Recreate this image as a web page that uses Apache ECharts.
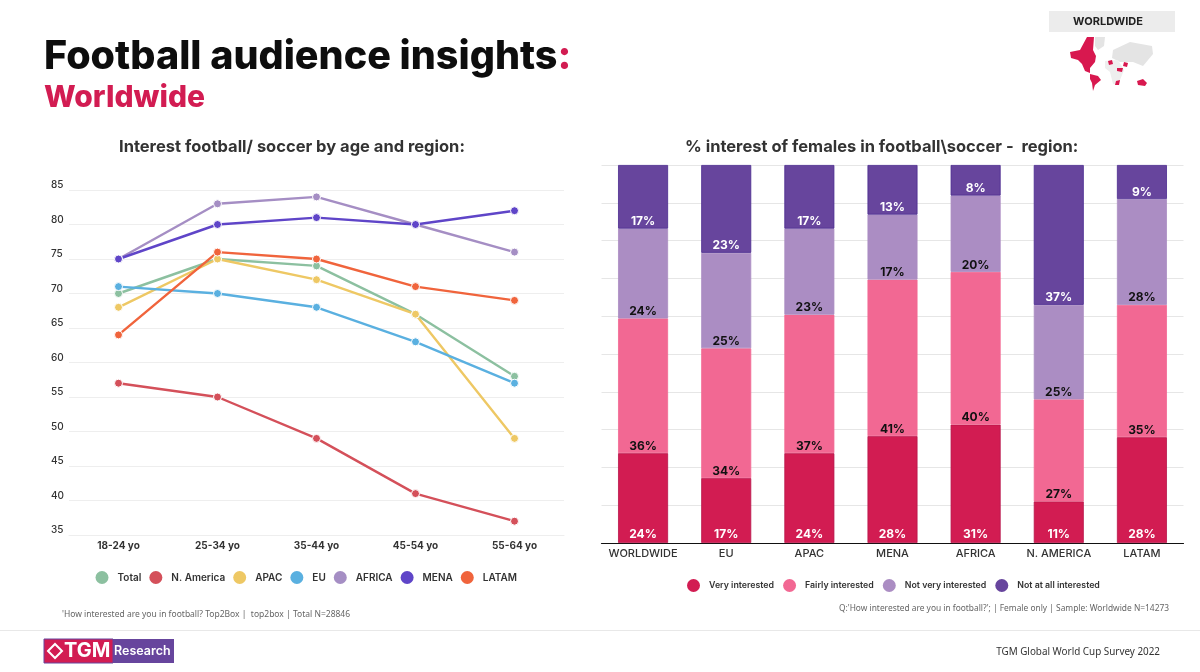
<!DOCTYPE html>
<html>
<head>
<meta charset="utf-8">
<style>
html, body { margin: 0; padding: 0; background: #fff; }
#main { width: 1200px; height: 672px; }
</style>
<script src="https://cdn.jsdelivr.net/npm/echarts@6/dist/echarts.min.js"></script>
</head>
<body>
<div id="main"></div>
<script>
// left chart
var ageGroups = ['18-24 yo', '25-34 yo', '35-44 yo', '45-54 yo', '55-64 yo']
var total = [70, 75, 74, 67, 58]
var nAmerica = [57, 55, 49, 41, 37]
var apac = [68, 75, 72, 67, 49]
var eu = [71, 70, 68, 63, 57]
var africa = [75, 83, 84, 80, 76]
var mena = [75, 80, 81, 80, 82]
var latam = [64, 76, 75, 71, 69]

// right chart
var regions = ['WORLDWIDE', 'EU', 'APAC', 'MENA', 'AFRICA', 'N. AMERICA', 'LATAM']
var veryInterested = [24, 17, 24, 28, 31, 11, 28]
var fairlyInterested = [36, 34, 37, 41, 40, 27, 35]
var notVeryInterested = [24, 25, 23, 17, 20, 25, 28]
var notAtAllInterested = [17, 23, 17, 13, 8, 37, 9]

var font = 'Inter, "Noto Sans", sans-serif'
var crimson = '#d21c52'

var lineSeries = (name, data, color) => {
    return {
        name: name,
        type: 'line',
        xAxisIndex: 0,
        yAxisIndex: 0,
        data: data,
        symbol: 'circle',
        symbolSize: 8,
        lineStyle: { color: color, width: 2.4 },
        itemStyle: { color: color, borderColor: '#fff', borderWidth: 1 },
    }
}

// the survey rounds to 99-101, the bars always fill the full height
var share = (data) => {
    return data.map((v, i) => {
        let sum = veryInterested[i] + fairlyInterested[i] + notVeryInterested[i] + notAtAllInterested[i]
        return v / sum * 100
    })
}

var barSeries = (name, data, color, border, labelColor, distance) => {
    return {
        name: name,
        type: 'bar',
        xAxisIndex: 1,
        yAxisIndex: 1,
        stack: 'interest',
        barWidth: 50,
        data: share(data),
        itemStyle: { color: color, borderColor: border, borderWidth: 0.8 },
        label: {
            show: true,
            position: 'insideBottom',
            distance: distance,
            color: labelColor,
            fontFamily: font,
            fontWeight: 700,
            fontSize: 12,
            formatter: (p) => data[p.dataIndex] + '%',
        },
    }
}

var legendText = (size, weight) => {
    return { fontFamily: font, fontSize: size, fontWeight: weight, color: '#333', padding: [0, 0, 0, 4] }
}

var gray = '#e4e4e4'
var red = '#d8184f'
var poly = (points, color) => {
    return { type: 'polygon', shape: { points: points }, style: { fill: color } }
}

var graphics = [
    // worldwide badge
    { type: 'rect', shape: { x: 1049, y: 11, width: 126, height: 21 }, style: { fill: '#ececec' } },
    { type: 'text', x: 1108, y: 22, style: { text: 'WORLDWIDE', font: '700 11px ' + font, fill: '#222', textAlign: 'center', textVerticalAlign: 'middle' } },
    // small map
    poly([[1095, 37], [1105, 37], [1104, 46], [1098, 50], [1095, 46]], gray),
    poly([[1113, 50], [1130, 42], [1152, 46], [1153, 54], [1143, 66], [1133, 62], [1120, 62], [1112, 58]], gray),
    poly([[1105, 61], [1118, 60], [1124, 70], [1118, 85], [1113, 84], [1110, 72], [1105, 68]], '#eeeeee'),
    poly([[1070, 52], [1080, 50], [1087, 37], [1094, 37], [1093, 50], [1096, 56], [1095, 62], [1090, 68], [1090, 73], [1085, 71], [1082, 64], [1078, 60], [1071, 58]], red),
    poly([[1090, 74], [1098, 76], [1101, 80], [1095, 85], [1093, 91], [1092, 83], [1090, 79]], red),
    poly([[1137, 81], [1143, 79], [1147, 83], [1145, 86], [1138, 85]], red),
    poly([[1108, 61], [1112, 60], [1113, 64], [1109, 65]], red),
    poly([[1117, 68], [1123, 68], [1122, 72], [1117, 71]], red),
    poly([[1116, 81], [1120, 80], [1119, 85], [1115, 85]], red),
    poly([[1124, 62], [1128, 63], [1127, 67], [1123, 66]], red),
    // footer
    { type: 'line', shape: { x1: 0, y1: 630.5, x2: 1200, y2: 630.5 }, style: { stroke: '#e8e8e8', lineWidth: 1 } },
    { type: 'rect', shape: { x: 44, y: 639, width: 130, height: 24 }, style: { fill: '#67459d' } },
    { type: 'rect', shape: { x: 44, y: 639, width: 69, height: 24 }, style: { fill: crimson, stroke: '#67459d', lineWidth: 1 } },
    { type: 'polygon', shape: { points: [[48, 651], [55, 644], [62, 651], [55, 658]] }, style: { fill: 'none', stroke: '#fff', lineWidth: 2 } },
    { type: 'text', x: 64, y: 651, style: { text: 'TGM', font: '700 20px ' + font, fill: '#fff', textVerticalAlign: 'middle' } },
    { type: 'text', x: 114, y: 651, style: { text: 'Research', font: '600 12.5px ' + font, fill: '#fff', textVerticalAlign: 'middle' } },
    { type: 'text', x: 1160, y: 652, style: { text: 'TGM Global World Cup Survey 2022', font: '400 9.9px "Noto Sans", sans-serif', fill: '#333', textAlign: 'right', textVerticalAlign: 'middle' } },
    // notes
    { type: 'text', x: 62, y: 615, style: { text: "'How interested are you in football? Top2Box |  top2box | Total N=28846", font: '400 8.5px "Noto Sans", sans-serif', fill: '#666', textVerticalAlign: 'middle' } },
    { type: 'text', x: 1169, y: 609, style: { text: "Q:'How interested are you in football?'; | Female only | Sample: Worldwide N=14273", font: '400 8.4px "Noto Sans", sans-serif', fill: '#666', textAlign: 'right', textVerticalAlign: 'middle' } },
]

var chart = echarts.init(document.querySelector('#main'))

chart.setOption({
    animation: false,
    backgroundColor: '#fff',
    title: [
        {
            text: 'Football audience insights{c|:}',
            left: 44, top: 37, padding: 0,
            textStyle: {
                fontFamily: font, fontSize: 39.5, fontWeight: 800, color: '#0d0d0d',
                rich: { c: { fontFamily: font, fontSize: 39.5, fontWeight: 800, color: crimson } },
            },
        },
        {
            text: 'Worldwide',
            left: 44, top: 83, padding: 0,
            textStyle: { fontFamily: font, fontSize: 30, fontWeight: 800, color: crimson },
        },
        {
            text: 'Interest football/ soccer by age and region:',
            left: 119, top: 139, padding: 0,
            textStyle: { fontFamily: font, fontSize: 16.5, fontWeight: 700, color: '#333' },
        },
        {
            text: '% interest of females in football\\soccer -  region:',
            left: 685, top: 139, padding: 0,
            textStyle: { fontFamily: font, fontSize: 16.5, fontWeight: 700, color: '#333' },
        },
    ],
    legend: [
        {
            data: ['Total', 'N. America', 'APAC', 'EU', 'AFRICA', 'MENA', 'LATAM'],
            left: 90.5, top: 566,
            icon: 'circle', itemWidth: 13, itemHeight: 13, itemGap: 8,
            itemStyle: { borderWidth: 0 },
            textStyle: legendText(10, 600),
        },
        {
            data: ['Very interested', 'Fairly interested', 'Not very interested', 'Not at all interested'],
            left: 682, top: 574,
            icon: 'circle', itemWidth: 13, itemHeight: 13, itemGap: 9,
            itemStyle: { borderWidth: 0 },
            textStyle: legendText(8.8, 600),
        },
    ],
    grid: [
        { left: 69, top: 190, width: 495, height: 345 },
        { left: 601.5, top: 165, width: 582, height: 378 },
    ],
    xAxis: [
        {
            type: 'category',
            gridIndex: 0,
            data: ageGroups,
            axisTick: { show: false },
            axisLine: { lineStyle: { color: '#eeeeee' } },
            axisLabel: { interval: 0, margin: 6, color: '#333', fontFamily: font, fontSize: 10, fontWeight: 700 },
        },
        {
            type: 'category',
            gridIndex: 1,
            data: regions,
            axisTick: { show: false },
            axisLine: { lineStyle: { color: '#111', width: 1.2 } },
            axisLabel: { interval: 0, margin: 5, color: '#333', fontFamily: font, fontSize: 11, fontWeight: 500 },
        },
    ],
    yAxis: [
        {
            type: 'value',
            gridIndex: 0,
            min: 35,
            max: 85,
            interval: 5,
            axisLine: { show: false },
            axisTick: { show: false },
            axisLabel: { align: 'left', verticalAlign: 'bottom', margin: 18, color: '#333', fontFamily: font, fontSize: 10, fontWeight: 500 },
            splitLine: { lineStyle: { color: '#eeeeee' } },
        },
        {
            type: 'value',
            gridIndex: 1,
            min: 0,
            max: 100,
            interval: 10,
            axisLine: { show: false },
            axisTick: { show: false },
            axisLabel: { show: false },
            splitLine: { lineStyle: { color: '#e6e6e6' } },
        },
    ],
    graphic: graphics,
    series: [
        lineSeries('Total', total, '#8cc0a0'),
        lineSeries('N. America', nAmerica, '#d4505a'),
        lineSeries('APAC', apac, '#eec864'),
        lineSeries('EU', eu, '#5ab0e0'),
        lineSeries('AFRICA', africa, '#a58ec4'),
        lineSeries('MENA', mena, '#5f45c8'),
        lineSeries('LATAM', latam, '#f0643c'),
        barSeries('Very interested', veryInterested, crimson, '#b8144a', '#fff', 3),
        barSeries('Fairly interested', fairlyInterested, '#f26893', '#f26893', '#111', 1),
        barSeries('Not very interested', notVeryInterested, '#ab8dc3', '#ab8dc3', '#111', 1),
        barSeries('Not at all interested', notAtAllInterested, '#67459d', '#4a2a8f', '#fff', 1),
    ],
})
</script>
</body>
</html>
